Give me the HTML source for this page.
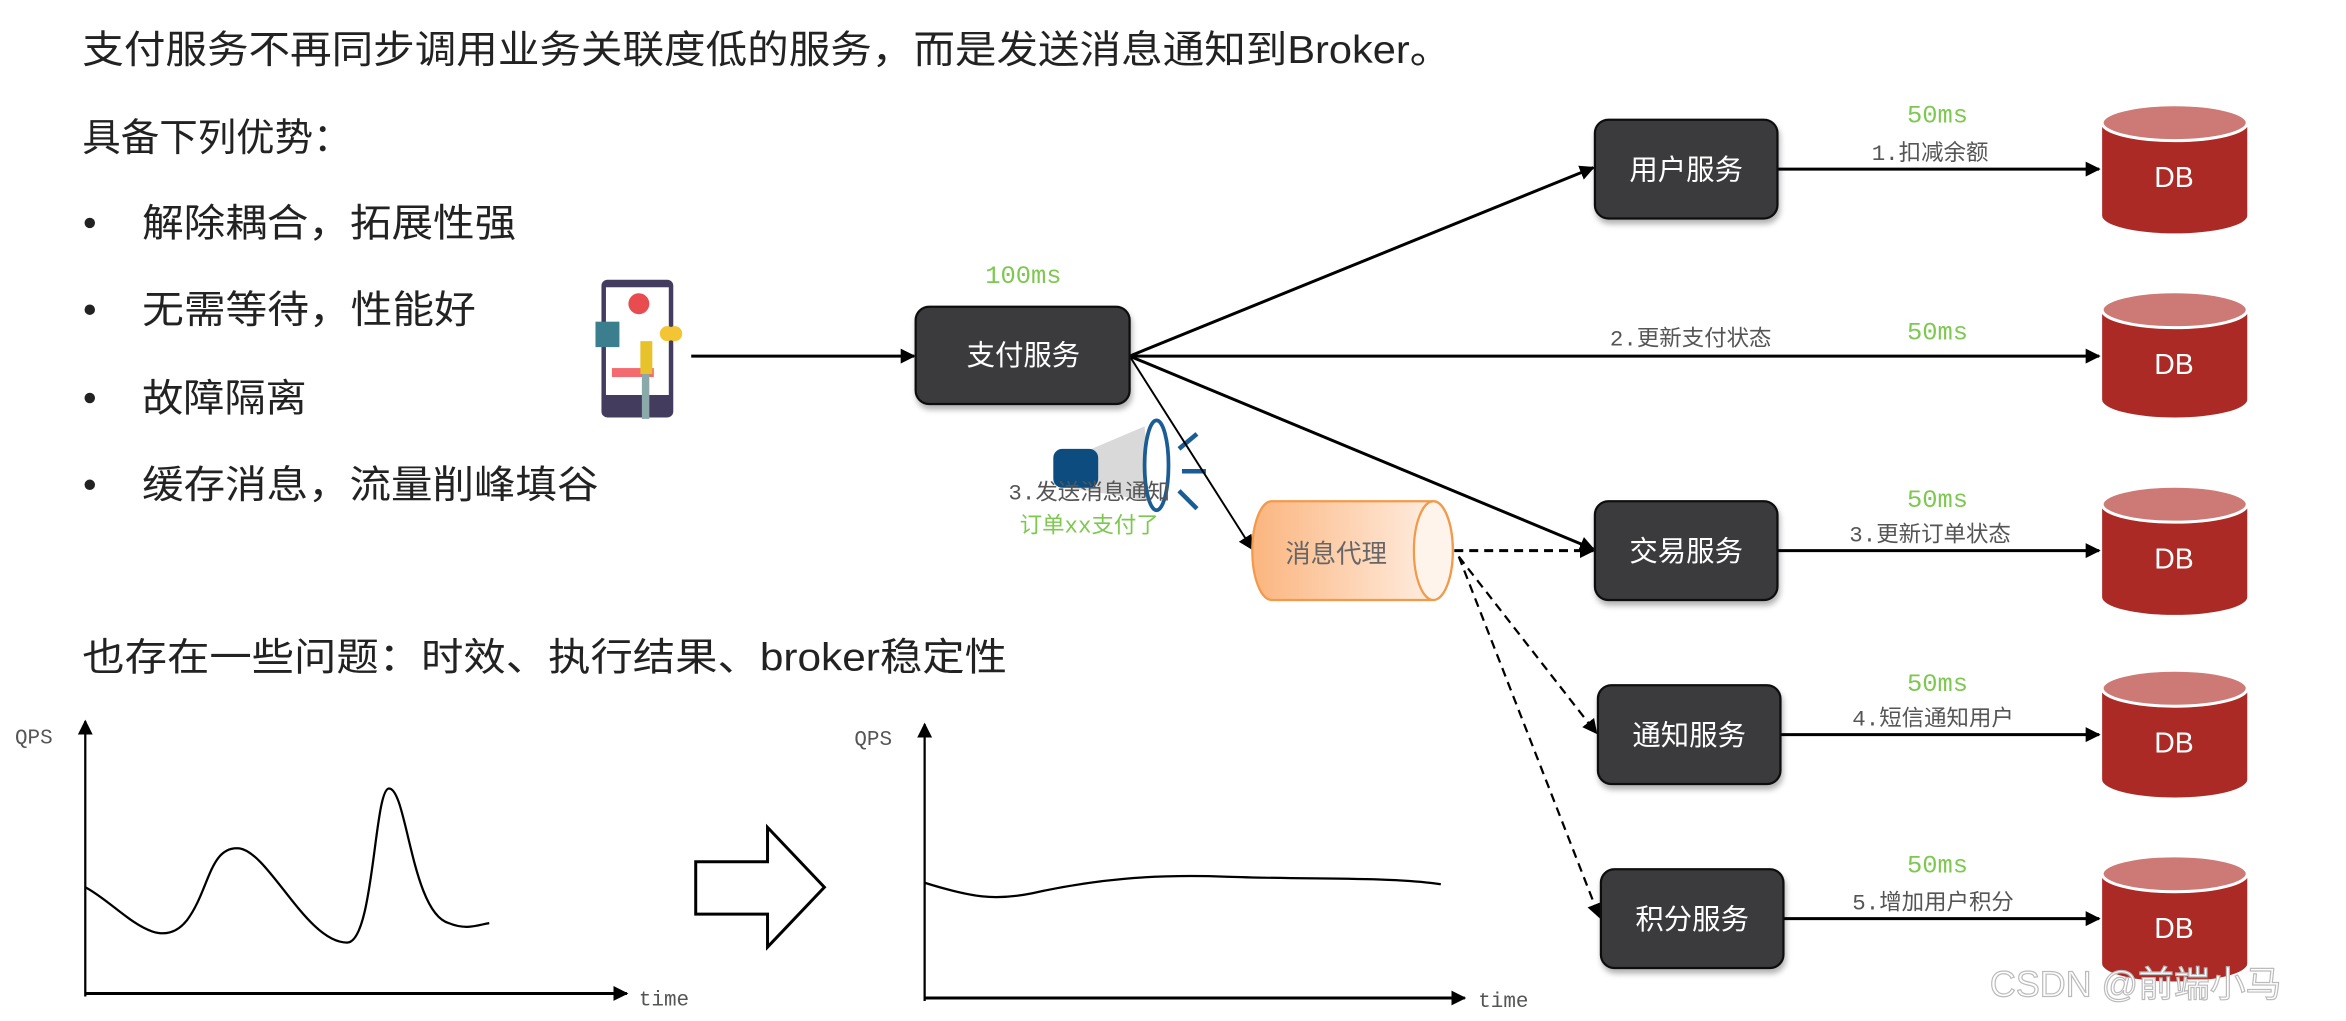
<!DOCTYPE html>
<html><head><meta charset="utf-8"><style>
html,body{margin:0;padding:0;background:#fff;}
svg{display:block;}
text{font-family:"Liberation Sans","Noto Sans CJK SC",sans-serif;}
.m{font-family:"Liberation Mono","Noto Sans CJK SC",monospace;}
</style></head><body>
<svg width="2346" height="1021" viewBox="0 0 1568 682.4" xmlns="http://www.w3.org/2000/svg">
<defs>
<marker id="a" markerWidth="10" markerHeight="10" refX="9" refY="5" orient="auto" markerUnits="userSpaceOnUse"><path d="M0,0 L10,5 L0,10 Z" fill="#000"/></marker>
<linearGradient id="og" x1="0" x2="1"><stop offset="0" stop-color="#fbb57f"/><stop offset="1" stop-color="#fff3ea"/></linearGradient>
<filter id="sh"><feDropShadow dx="1" dy="3" stdDeviation="2" flood-opacity="0.3"/></filter>
</defs>
<g fill="#222" font-size="26">
<text x="55" y="42" textLength="915" lengthAdjust="spacingAndGlyphs">支付服务不再同步调用业务关联度低的服务，而是发送消息通知到Broker。</text>
<text x="55" y="101" textLength="180" lengthAdjust="spacingAndGlyphs">具备下列优势：</text>
<text x="95" y="158" textLength="250" lengthAdjust="spacingAndGlyphs">解除耦合，拓展性强</text>
<text x="95" y="216" textLength="223" lengthAdjust="spacingAndGlyphs">无需等待，性能好</text>
<text x="95" y="275" textLength="110" lengthAdjust="spacingAndGlyphs">故障隔离</text>
<text x="95" y="333" textLength="305" lengthAdjust="spacingAndGlyphs">缓存消息，流量削峰填谷</text>
<text x="55" y="448" textLength="618" lengthAdjust="spacingAndGlyphs">也存在一些问题：时效、执行结果、broker稳定性</text>
<circle cx="60" cy="149" r="3.5"/><circle cx="60" cy="207" r="3.5"/><circle cx="60" cy="266" r="3.5"/><circle cx="60" cy="324" r="3.5"/>
</g>
<!-- phone -->
<rect x="402" y="187" width="48" height="92" rx="4" fill="#433c5e"/>
<rect x="405" y="192" width="42" height="72" fill="#fff"/>
<circle cx="427" cy="203" r="7" fill="#e84c4f"/>
<rect x="398" y="215" width="16" height="17" fill="#3b7f8e"/>
<rect x="409" y="246" width="28" height="6" fill="#f36b6f"/>
<rect x="428" y="228" width="8" height="22" fill="#e7c22b"/>
<rect x="429" y="250" width="5" height="30" fill="#8aa9a8"/>
<circle cx="446" cy="223" r="5" fill="#f3c433"/><circle cx="451" cy="223" r="5" fill="#f3c433"/>
<!-- megaphone -->
<path d="M706,310 L765,285 L770,335 L708,325 Z" fill="#d9d9d9"/>
<rect x="704" y="300" width="30" height="26" rx="6" fill="#0d4c7e"/>
<ellipse cx="773" cy="311" rx="8" ry="30" fill="#fff" stroke="#1a5d94" stroke-width="2.5"/>
<path d="M788,300 L800,290 M790,315 L806,315 M788,328 L800,340" stroke="#1a5d94" stroke-width="3"/>
<!-- arrows / lines -->
<g stroke="#000" fill="none">
<line x1="462" y1="238" x2="611" y2="238" stroke-width="2" marker-end="url(#a)"/>
<line x1="755" y1="238" x2="1065" y2="112" stroke-width="2" marker-end="url(#a)"/>
<line x1="755" y1="238" x2="1403" y2="238" stroke-width="2" marker-end="url(#a)"/>
<line x1="755" y1="238" x2="1065" y2="367" stroke-width="2" marker-end="url(#a)"/>
<line x1="755" y1="238" x2="837" y2="367" stroke-width="1.3" marker-end="url(#a)"/>
<line x1="1188" y1="113" x2="1403" y2="113" stroke-width="2" marker-end="url(#a)"/>
<line x1="1188" y1="368" x2="1403" y2="368" stroke-width="2" marker-end="url(#a)"/>
<line x1="1190" y1="491" x2="1403" y2="491" stroke-width="2" marker-end="url(#a)"/>
<line x1="1192" y1="614" x2="1403" y2="614" stroke-width="2" marker-end="url(#a)"/>
<line x1="972" y1="368" x2="1065" y2="368" stroke-width="2" stroke-dasharray="6,4" marker-end="url(#a)"/>
<line x1="975" y1="372" x2="1067" y2="490" stroke-width="1.5" stroke-dasharray="6,4" marker-end="url(#a)"/>
<line x1="975" y1="372" x2="1069" y2="613" stroke-width="1.5" stroke-dasharray="6,4" marker-end="url(#a)"/>
</g>
<!-- service boxes -->
<g fill="#3a3b3d" stroke="#111" stroke-width="1.5" filter="url(#sh)">
<rect x="612" y="205" width="143" height="65" rx="9"/>
<rect x="1066" y="80" width="122" height="66" rx="9"/>
<rect x="1066" y="335" width="122" height="66" rx="9"/>
<rect x="1068" y="458" width="122" height="66" rx="9"/>
<rect x="1070" y="581" width="122" height="66" rx="9"/>
</g>
<g fill="#fff" font-size="19" text-anchor="middle">
<text x="684" y="244">支付服务</text>
<text x="1127" y="120">用户服务</text>
<text x="1127" y="375">交易服务</text>
<text x="1129" y="498">通知服务</text>
<text x="1131" y="621">积分服务</text>
</g>
<!-- broker -->
<path d="M850,335 L958,335 A13,33 0 0 1 958,401 L850,401 A13,33 0 0 1 850,335 Z" fill="url(#og)" stroke="#f29a4a" stroke-width="1.5"/>
<ellipse cx="958" cy="368" rx="13" ry="33" fill="#fff4ec" stroke="#f29a4a" stroke-width="1.5"/>
<text x="893" y="376" font-size="17" fill="#666" text-anchor="middle">消息代理</text>
<!-- DBs -->
<g font-size="19" fill="#fff" text-anchor="middle">
<path d="M1405,82 v62 a48.5,12 0 0 0 97,0 v-62 Z" fill="#ac2a25"/><ellipse cx="1453.5" cy="82" rx="48.5" ry="12" fill="#cd7a76" stroke="#fff" stroke-width="2"/><text x="1453" y="125">DB</text>
<path d="M1405,207 v60 a48.5,12 0 0 0 97,0 v-60 Z" fill="#ac2a25"/><ellipse cx="1453.5" cy="207" rx="48.5" ry="12" fill="#cd7a76" stroke="#fff" stroke-width="2"/><text x="1453" y="250">DB</text>
<path d="M1405,337 v62 a48.5,12 0 0 0 97,0 v-62 Z" fill="#ac2a25"/><ellipse cx="1453.5" cy="337" rx="48.5" ry="12" fill="#cd7a76" stroke="#fff" stroke-width="2"/><text x="1453" y="380">DB</text>
<path d="M1405,460 v61 a48.5,12 0 0 0 97,0 v-61 Z" fill="#ac2a25"/><ellipse cx="1453.5" cy="460" rx="48.5" ry="12" fill="#cd7a76" stroke="#fff" stroke-width="2"/><text x="1453" y="503">DB</text>
<path d="M1405,584 v60 a48.5,12 0 0 0 97,0 v-60 Z" fill="#ac2a25"/><ellipse cx="1453.5" cy="584" rx="48.5" ry="12" fill="#cd7a76" stroke="#fff" stroke-width="2"/><text x="1453" y="627">DB</text>
</g>
<!-- labels -->
<g class="m" font-size="17" fill="#7dc84f" text-anchor="middle">
<text x="684" y="189" class="m">100ms</text>
<text x="1295" y="82" class="m">50ms</text>
<text x="1295" y="227" class="m">50ms</text>
<text x="1295" y="339" class="m">50ms</text>
<text x="1295" y="462" class="m">50ms</text>
<text x="1295" y="583" class="m">50ms</text>
</g>
<g class="m" font-size="15" fill="#555" text-anchor="middle">
<text x="1290" y="107" class="m">1.扣减余额</text>
<text x="1130" y="231" class="m">2.更新支付状态</text>
<text x="1290" y="362" class="m">3.更新订单状态</text>
<text x="1292" y="485" class="m">4.短信通知用户</text>
<text x="1292" y="608" class="m">5.增加用户积分</text>
<text x="728" y="334" class="m">3.发送消息通知</text>
<text x="728" y="356" class="m" fill="#7dc84f">订单xx支付了</text>
</g>
<!-- charts -->
<g stroke="#000" fill="none">
<line x1="57" y1="666" x2="57" y2="482" stroke-width="1.5" marker-end="url(#a)"/>
<line x1="57" y1="664" x2="419" y2="664" stroke-width="2" marker-end="url(#a)"/>
<path d="M57,593 C80,605 105,640 125,615 C140,595 140,565 160,567 C180,570 205,630 232,630 C250,630 250,527 260,527 C272,527 275,610 300,617 C312,622 320,618 327,617" stroke-width="1.5"/>
<line x1="618" y1="669" x2="618" y2="484" stroke-width="1.5" marker-end="url(#a)"/>
<line x1="618" y1="667" x2="979" y2="667" stroke-width="2" marker-end="url(#a)"/>
<path d="M618,590 C650,600 665,602 690,597 C730,588 770,584 820,586 C880,588 930,586 963,591" stroke-width="1.5"/>
<path d="M465,576 L513,576 L513,553 L551,593 L513,633 L513,611 L465,611 Z" stroke-width="2"/>
</g>
<g class="m" font-size="14" fill="#555">
<text x="10" y="497" class="m">QPS</text>
<text x="571" y="498" class="m">QPS</text>
<text x="427" y="672" class="m">time</text>
<text x="988" y="673" class="m">time</text>
</g>
<text x="1330" y="666" font-size="24" fill="#fff" stroke="#bbb" stroke-width="0.8">CSDN @前端小马</text>
</svg>
</body></html>
